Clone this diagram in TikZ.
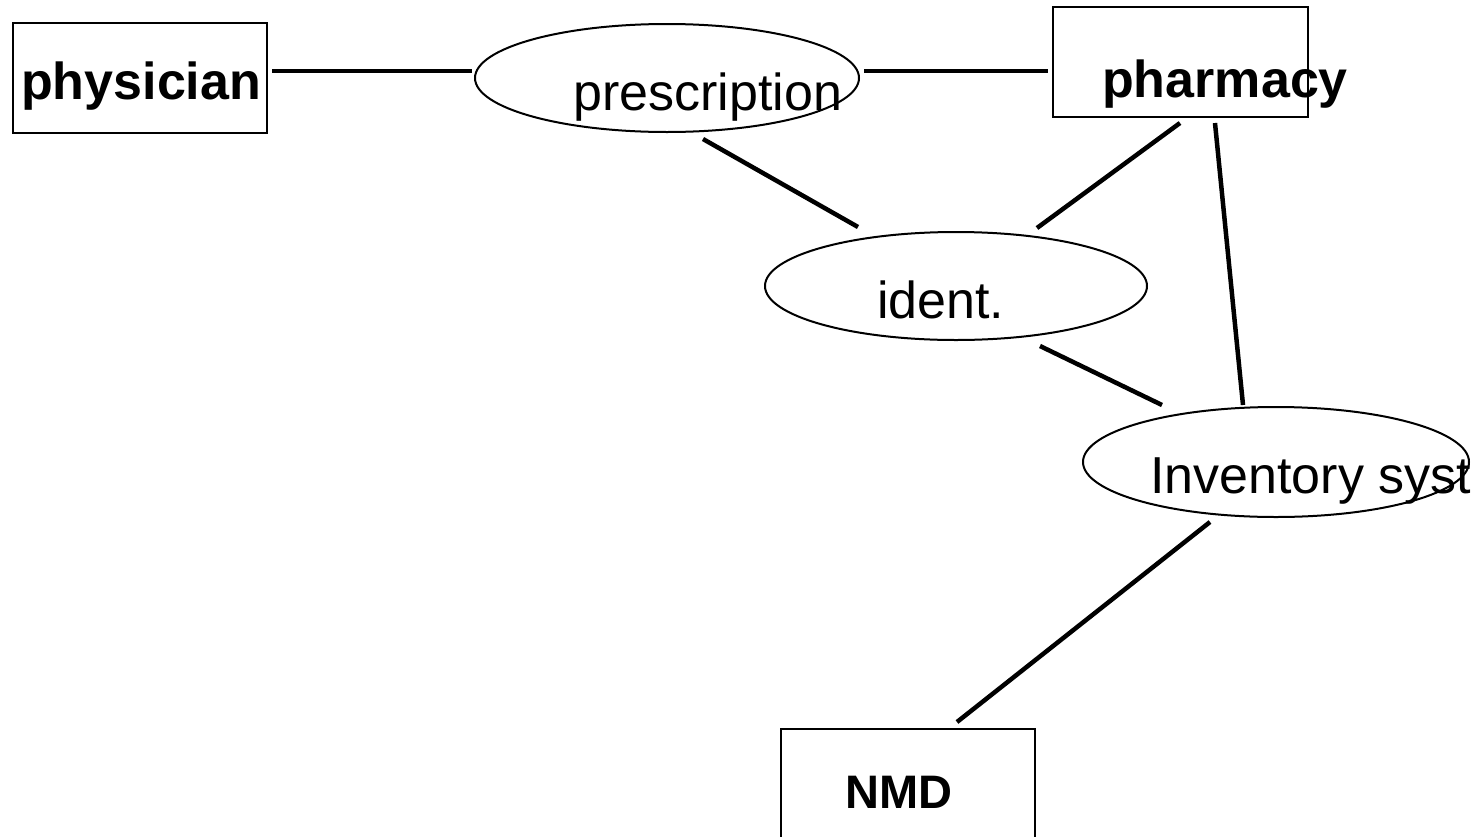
\documentclass[tikz,border=0pt]{standalone}
\usepackage{fontspec}
\setmainfont{Liberation Sans}
\usetikzlibrary{shapes.geometric}
\begin{document}
\begin{tikzpicture}[x=1pt,y=-1pt,
  entity/.style={draw=black,line width=2.5pt,rectangle,minimum width=254pt,minimum height=110pt,inner sep=0pt},
  relation/.style={draw=black,line width=2pt,ellipse,inner sep=0pt},
  lbl/.style={anchor=base west,inner sep=0pt,font=\fontsize{52}{60}\selectfont},
  blbl/.style={lbl,font=\fontsize{52}{60}\selectfont\bfseries},
  link/.style={line width=4.5pt}]
\useasboundingbox (0,0) rectangle (1484,836);
\clip (0,0) rectangle (1484,836);
% entities
\node[entity] (physician) at (140,78) {};
\node[entity,minimum width=255pt] (pharmacy) at (1180.5,62) {};
\node[entity] (nmd) at (908,784) {};
% relationships
\node[relation,minimum width=384pt,minimum height=108pt] (prescription) at (667,78) {};
\node[relation,minimum width=382pt,minimum height=108pt] (ident) at (956,286) {};
\node[relation,minimum width=386pt,minimum height=110pt] (inventory) at (1276,462) {};
% labels
\node[blbl] (physicianlbl) at (21,99) {physician};
\node[blbl] (pharmacylbl) at (1102,97) {pharmacy};
\node[blbl,font=\fontsize{47}{56}\selectfont\bfseries] (nmdlbl) at (845,808) {NMD};
\node[lbl] (prescriptionlbl) at (573,110) {prescription};
\node[lbl] (identlbl) at (877,318) {ident.};
\node[lbl] (inventorylbl) at (1150,493) {Inventory syst};
% connector end points
\coordinate (phys-e) at (272,71);
\coordinate (presc-w) at (472,71);
\coordinate (presc-e) at (864,71);
\coordinate (pharm-w) at (1048,71);
\coordinate (presc-s) at (703,139);
\coordinate (ident-nw) at (858,227);
\coordinate (pharm-sw) at (1180,123);
\coordinate (ident-ne) at (1037,228);
\coordinate (pharm-s) at (1215,123);
\coordinate (inv-n) at (1243,405);
\coordinate (ident-se) at (1040,346);
\coordinate (inv-nw) at (1162,405);
\coordinate (inv-s) at (1210,522);
\coordinate (nmd-n) at (957,722);
% connectors
\draw[link] (phys-e) -- (presc-w);
\draw[link] (presc-e) -- (pharm-w);
\draw[link] (presc-s) -- (ident-nw);
\draw[link] (pharm-sw) -- (ident-ne);
\draw[link] (pharm-s) -- (inv-n);
\draw[link] (ident-se) -- (inv-nw);
\draw[link] (inv-s) -- (nmd-n);
\end{tikzpicture}
\end{document}
